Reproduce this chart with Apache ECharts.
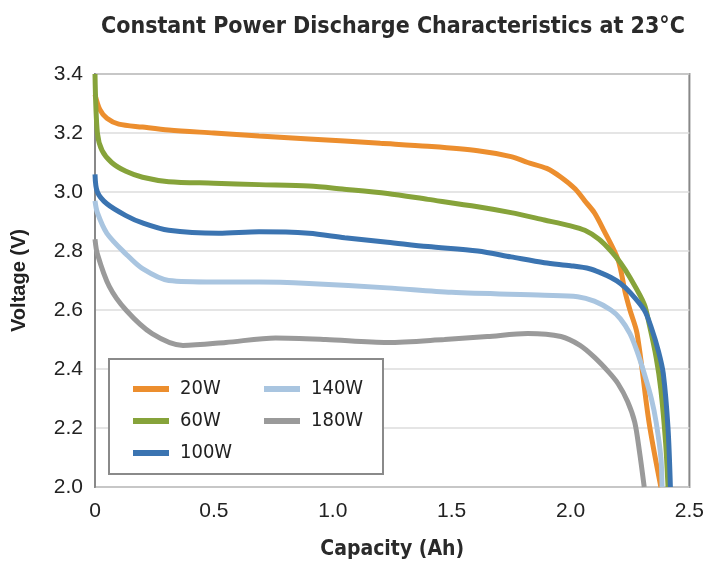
<!DOCTYPE html>
<html>
<head>
<meta charset="utf-8">
<script src="https://cdn.jsdelivr.net/npm/echarts@6/dist/echarts.min.js"></script>
<style>html,body{margin:0;padding:0;background:#fff;}#c{width:707px;height:565px;}</style>
</head>
<body>
<div id="c"></div>
<script>
const titleText = 'Constant Power Discharge Characteristics at 23°C';
const seriesNames = ['20W', '60W', '100W', '140W', '180W'];
const xTicks = [0, 0.5, 1.0, 1.5, 2.0, 2.5];
const yTicks = [2.0, 2.2, 2.4, 2.6, 2.8, 3.0, 3.2, 3.4];

const cap20 = [0, 0.02, 0.05, 0.1, 0.2, 0.31, 0.5, 0.69, 0.9, 1.2, 1.4, 1.61, 1.75, 1.82, 1.9, 1.96, 2.02, 2.06, 2.1, 2.14, 2.2, 2.23, 2.25, 2.28, 2.33, 2.38];
const volt20 = [3.33, 3.28, 3.25, 3.23, 3.22, 3.21, 3.20, 3.19, 3.18, 3.165, 3.155, 3.14, 3.12, 3.10, 3.08, 3.05, 3.01, 2.97, 2.93, 2.87, 2.77, 2.66, 2.60, 2.52, 2.22, 2.0];

const cap60 = [0, 0.01, 0.03, 0.07, 0.13, 0.2, 0.31, 0.5, 0.69, 0.9, 1.04, 1.23, 1.4, 1.61, 1.75, 1.89, 2.0, 2.06, 2.12, 2.17, 2.21, 2.25, 2.31, 2.33, 2.36, 2.38, 2.4, 2.41];
const volt60 = [3.4, 3.2, 3.14, 3.1, 3.07, 3.05, 3.035, 3.03, 3.025, 3.02, 3.01, 2.995, 2.975, 2.95, 2.93, 2.905, 2.885, 2.87, 2.84, 2.80, 2.76, 2.71, 2.62, 2.555, 2.44, 2.33, 2.15, 2.0];

const cap100 = [0, 0.01, 0.05, 0.13, 0.2, 0.31, 0.52, 0.69, 0.9, 1.05, 1.23, 1.4, 1.61, 1.75, 1.89, 2.0, 2.08, 2.13, 2.17, 2.21, 2.25, 2.31, 2.34, 2.37, 2.39, 2.41, 2.42];
const volt100 = [3.06, 3.0, 2.96, 2.92, 2.895, 2.87, 2.86, 2.865, 2.86, 2.845, 2.83, 2.815, 2.80, 2.78, 2.76, 2.75, 2.74, 2.725, 2.71, 2.69, 2.66, 2.60, 2.54, 2.46, 2.385, 2.2, 2.0];

const cap140 = [0, 0.01, 0.05, 0.13, 0.2, 0.31, 0.5, 0.69, 0.9, 1.23, 1.5, 1.89, 2.03, 2.1, 2.17, 2.21, 2.25, 2.28, 2.31, 2.34, 2.36, 2.38, 2.385];
const volt140 = [2.97, 2.93, 2.86, 2.79, 2.74, 2.70, 2.695, 2.695, 2.69, 2.675, 2.66, 2.65, 2.645, 2.63, 2.60, 2.57, 2.52, 2.46, 2.385, 2.3, 2.22, 2.1, 2.0];

const cap180 = [0, 0.01, 0.06, 0.13, 0.24, 0.37, 0.55, 0.76, 0.97, 1.23, 1.47, 1.65, 1.82, 1.96, 2.04, 2.10, 2.16, 2.20, 2.24, 2.27, 2.29, 2.31];
const volt180 = [2.84, 2.79, 2.68, 2.60, 2.52, 2.48, 2.49, 2.505, 2.50, 2.49, 2.50, 2.51, 2.52, 2.51, 2.48, 2.44, 2.39, 2.35, 2.29, 2.22, 2.12, 2.0];

const colors = ['#EC8E2E', '#86A33A', '#3B74B1', '#A9C5E0', '#9A9A9A'];

function pairs(xs, ys) { return xs.map((x, i) => [x, ys[i]]); }
const allData = [pairs(cap20, volt20), pairs(cap60, volt60), pairs(cap100, volt100), pairs(cap140, volt140), pairs(cap180, volt180)];

const condFont = 'DejaVu Sans Condensed, DejaVu Sans, sans-serif';
const arialFont = 'Liberation Sans, Arial, sans-serif';
const chart = echarts.init(document.getElementById('c'), null, {renderer: 'canvas'});
const legendCommon = {
  orient: 'vertical', icon: 'rect', itemWidth: 36, itemHeight: 6, itemGap: 12,
  textStyle: {fontFamily: condFont, fontSize: 20, color: '#222', padding: [0, 0, 0, 6]},
  selectedMode: false
};
chart.setOption({
  animation: false,
  color: colors,
  title: {
    text: titleText, left: 96, top: 11,
    textStyle: {fontFamily: condFont, fontSize: 23, fontWeight: 'bold', color: '#2a2a2a'}
  },
  graphic: [{
    type: 'rect', left: 108, top: 358,
    shape: {width: 274, height: 115},
    style: {fill: '#fff', stroke: '#8a8a8a', lineWidth: 2},
    z: 10
  }],
  legend: [
    Object.assign({data: seriesNames.slice(0, 3), left: 128, top: 374, z: 20}, legendCommon),
    Object.assign({data: seriesNames.slice(3), left: 259, top: 374, z: 20}, legendCommon)
  ],
  grid: {
    left: 95, right: 14, top: 74, bottom: 78,
    show: true, borderColor: '#888', borderWidth: 2, backgroundColor: 'transparent'
  },
  xAxis: {
    type: 'value', min: 0, max: 2.5, interval: 0.5,
    name: 'Capacity (Ah)', nameLocation: 'middle', nameGap: 52,
    nameTextStyle: {fontFamily: condFont, fontSize: 21, fontWeight: 'bold', color: '#2a2a2a'},
    axisLine: {show: false}, axisTick: {show: false}, splitLine: {show: false},
    axisLabel: {fontFamily: arialFont, fontSize: 21, color: '#222', margin: 14,
      formatter: v => (v === 0 ? '0' : v.toFixed(1))}
  },
  yAxis: {
    type: 'value', min: 2.0, max: 3.4, interval: 0.2,
    name: 'Voltage (V)', nameLocation: 'middle', nameGap: 66,
    nameTextStyle: {fontFamily: arialFont, fontSize: 20, fontWeight: 'bold', color: '#222'},
    axisLine: {show: true, lineStyle: {color: '#888', width: 2}},
    axisTick: {show: false},
    splitLine: {show: true, lineStyle: {color: '#dcdcdc', width: 1.5}},
    axisLabel: {fontFamily: arialFont, fontSize: 21, color: '#222', margin: 12,
      formatter: v => v.toFixed(1)}
  },
  series: allData.map((d, i) => ({
    name: seriesNames[i], type: 'line', data: d,
    smooth: 0.3, showSymbol: false, symbol: 'none',
    lineStyle: {width: 5, color: colors[i]}, itemStyle: {color: colors[i]}, z: 2 + i
  }))
});
</script>
</body>
</html>
